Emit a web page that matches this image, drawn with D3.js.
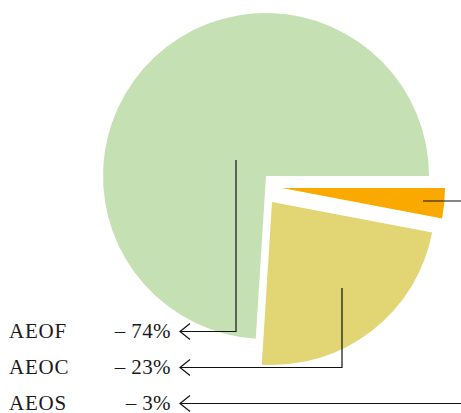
<!DOCTYPE html>
<html>
<head>
<meta charset="utf-8">
<script src="https://d3js.org/d3.v7.min.js"></script>
<style>
  body { margin: 0; background: #fff; }
  text { font-family: "Liberation Serif", "DejaVu Serif", serif; font-size: 21px; fill: #1a1a1a; }
</style>
</head>
<body>
<svg width="461" height="413"></svg>
<script>
// slice data, clockwise from 3 o'clock
const categories = ["AEOS", "AEOC", "AEOF"];
const shares = [3, 23, 74];
const labelOrder = ["AEOF", "AEOC", "AEOS"]; // top to bottom

const colors = { AEOS: "#F9A900", AEOC: "#E1D574", AEOF: "#C5E1B3" };
// apex of each (exploded) slice
const apex = { AEOS: [282, 188], AEOC: [272, 202], AEOF: [266, 176] };
// where each leader line starts
const anchor = { AEOS: [423, 201], AEOC: [342, 288], AEOF: [236, 160] };
const R = 163;

var svg = d3.select("svg");

var pie = d3.pie().sort(null).value(function(d, i) { return shares[i]; })
    .startAngle(Math.PI / 2).endAngle(Math.PI / 2 + 2 * Math.PI);
var arc = d3.arc().innerRadius(0).outerRadius(R);

var arcs = pie(categories);
svg.append("g").selectAll("path")
    .data(arcs)
    .enter().append("path")
      .attr("transform", function(d) { return "translate(" + apex[d.data] + ")"; })
      .attr("d", arc)
      .attr("fill", function(d) { return colors[d.data]; });

// labels
var y = d3.scalePoint().domain(labelOrder).range([338, 410]);
var lab = svg.append("g");
labelOrder.forEach(function(c) {
  var i = categories.indexOf(c);
  lab.append("text").attr("x", 9).attr("y", y(c))
     .attr("letter-spacing", "0.8px").text(c);
  lab.append("text").attr("x", 171).attr("y", y(c))
     .attr("text-anchor", "end").attr("letter-spacing", "0.4px")
     .text("\u2013 " + shares[i] + "%");
});

// leader lines with open arrow heads
var tipX = 180;
var lines = svg.append("g").attr("fill", "none").attr("stroke", "#111").attr("stroke-width", 1.2);
labelOrder.forEach(function(c) {
  var a = anchor[c], ly = y(c) - 6.5;
  var p;
  if (c === "AEOS") {
    p = [[a[0], a[1]], [470, a[1]], [470, ly], [tipX, ly]];
  } else {
    p = [[a[0], a[1]], [a[0], ly], [tipX, ly]];
  }
  lines.append("path").attr("d", d3.line()(p));
  lines.append("path").attr("d", d3.line()([[tipX + 10, ly - 8], [tipX, ly], [tipX + 10, ly + 8]]));
});
</script>
</body>
</html>
